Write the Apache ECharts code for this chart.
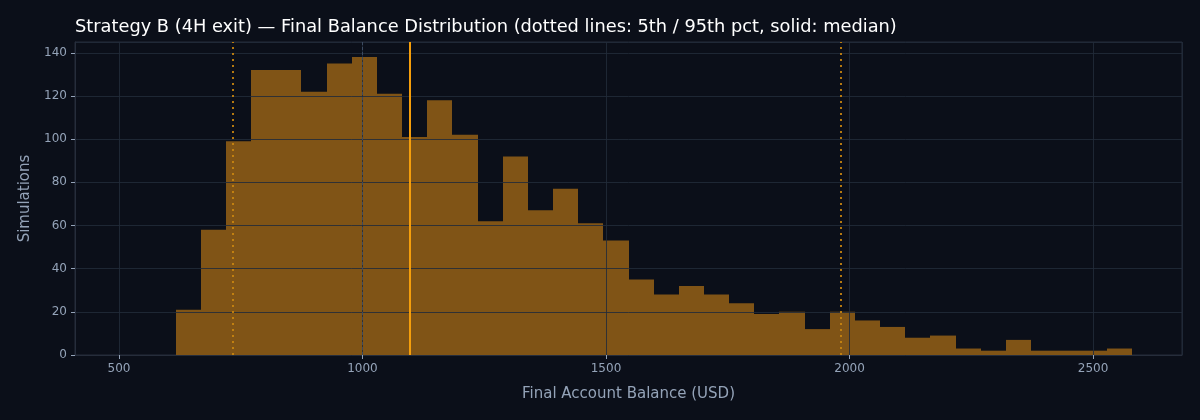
<!DOCTYPE html>
<html>
<head>
<meta charset="utf-8">
<script src="https://cdn.jsdelivr.net/npm/echarts@6/dist/echarts.min.js"></script>
<style>
  html, body { margin: 0; padding: 0; background: #0b0f19; }
  #chart { width: 1200px; height: 420px; }
</style>
</head>
<body>
<div id="chart"></div>
<script>
// histogram bins (USD)
var binStart = 616.4;
var binWidth = 51.66;
var counts = [21, 58, 99, 132, 132, 122, 135, 138, 121, 101, 118, 102, 62, 92, 67, 77, 61, 53, 35, 28,
              32, 28, 24, 19, 20, 12, 20, 16, 13, 8, 9, 3, 2, 7, 2, 2, 2, 3];

var startBalance = 1000;
var pct5 = 733;
var median = 1098;
var pct95 = 1983;

var bins = [];
for (var i = 0; i < counts.length; i++) {
    bins.push([binStart + i * binWidth, binStart + (i + 1) * binWidth, counts[i]]);
}

var font = "'DejaVu Sans', sans-serif";
var labelColor = '#94a3b8';
var gridColor = 'rgba(34,43,58,0.85)';
var orange = '#f59e0b';

var option = {
    backgroundColor: '#0b0f19',
    animation: false,
    textStyle: { fontFamily: font },
    title: {
        text: 'Strategy B (4H exit) — Final Balance Distribution (dotted lines: 5th / 95th pct, solid: median)',
        left: 70,
        top: 13,
        textStyle: { color: '#ffffff', fontSize: 17.8, fontWeight: 'normal', fontFamily: font }
    },
    grid: {
        left: 75,
        right: 18,
        top: 42,
        bottom: 65,
        show: true,
        borderColor: '#262d3b',
        borderWidth: 1
    },
    xAxis: {
        type: 'value',
        z: 5,
        min: 409.7,
        max: 2682.7,
        splitNumber: 5,
        name: 'Final Account Balance (USD)',
        nameLocation: 'middle',
        nameGap: 32,
        nameTextStyle: { color: labelColor, fontSize: 15, fontFamily: font },
        axisLine: { show: true, lineStyle: { color: '#262d3b' } },
        axisTick: { show: true, length: 4, lineStyle: { color: labelColor } },
        axisLabel: {
            color: labelColor, fontSize: 12, fontFamily: font, margin: 8,
            showMinLabel: false, showMaxLabel: false,
            formatter: function (v) { return String(v); }
        },
        splitLine: { show: true, lineStyle: { color: gridColor, width: 1 } }
    },
    yAxis: {
        type: 'value',
        z: 5,
        min: 0,
        max: 145,
        interval: 20,
        name: 'Simulations',
        nameLocation: 'middle',
        nameGap: 42,
        nameTextStyle: { color: labelColor, fontSize: 15, fontFamily: font },
        axisLine: { show: true, lineStyle: { color: '#262d3b' } },
        axisTick: { show: true, length: 4, lineStyle: { color: labelColor } },
        axisLabel: { color: labelColor, fontSize: 12, fontFamily: font, margin: 8, showMaxLabel: false },
        splitLine: { show: true, lineStyle: { color: gridColor, width: 1 } }
    },
    series: [{
        type: 'custom',
        data: bins,
        encode: { x: [0, 1], y: 2 },
        renderItem: function (params, api) {
            var topLeft = api.coord([api.value(0), api.value(2)]);
            var bottomRight = api.coord([api.value(1), 0]);
            var x0 = Math.round(topLeft[0]);
            var x1 = Math.round(bottomRight[0]);
            return {
                type: 'rect',
                shape: {
                    x: x0,
                    y: topLeft[1],
                    width: x1 - x0,
                    height: bottomRight[1] - topLeft[1]
                },
                style: { fill: '#805416' }
            };
        },
        markLine: {
            silent: true,
            symbol: 'none',
            z: 6,
            label: { show: false },
            data: [
                { xAxis: startBalance, lineStyle: { color: '#3b4a60', type: [3, 2], width: 1 } },
                { xAxis: pct5, lineStyle: { color: '#c8850f', opacity: 0.9, type: [2, 4], width: 2 } },
                { xAxis: pct95, lineStyle: { color: '#c8850f', opacity: 0.9, type: [2, 4], width: 2 } },
                { xAxis: median, lineStyle: { color: orange, type: 'solid', width: 2 } }
            ]
        }
    }]
};

var myChart = echarts.init(document.getElementById('chart'));
myChart.setOption(option);
</script>
</body>
</html>
